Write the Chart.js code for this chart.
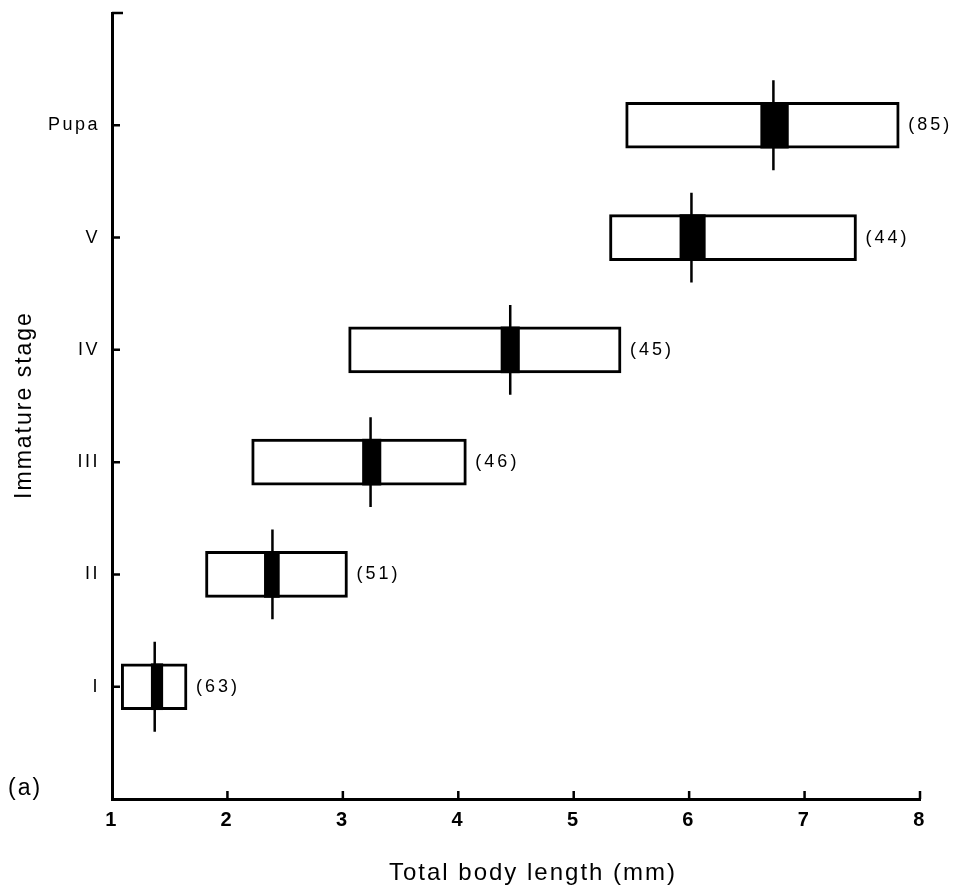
<!DOCTYPE html>
<html>
<head>
<meta charset="utf-8">
<script src="https://cdn.jsdelivr.net/npm/chart.js@4.4.0/dist/chart.umd.min.js"></script>
<style>
  html, body { margin: 0; padding: 0; background: #fff; }
  canvas { display: block; }
</style>
</head>
<body>
<canvas id="myChart" width="955" height="892"></canvas>
<script>
// stage data (mm)
const stages = ['I', 'II', 'III', 'IV', 'V', 'Pupa'];
const minLength = [1.08, 1.81, 2.21, 3.05, 5.31, 5.45];
const maxLength = [1.65, 3.04, 4.07, 5.41, 7.45, 7.82];
const lowLength = [1.34, 2.32, 3.17, 4.37, 5.92, 6.62];
const highLength = [1.44, 2.45, 3.33, 4.53, 6.14, 6.86];
const meanLength = [1.37, 2.39, 3.24, 4.45, 6.02, 6.73];
const sampleSize = [63, 51, 46, 45, 44, 85];
const xTicks = [1, 2, 3, 4, 5, 6, 7, 8];

const font = '"Liberation Sans", Arial, Helvetica, sans-serif';

const rangeBars = stages.map((s, i) => ({ y: i + 1, x: [minLength[i], maxLength[i]] }));
const meanBars = stages.map((s, i) => ({ y: i + 1, x: [lowLength[i], highLength[i]] }));
const meanLines = [];
stages.forEach((s, i) => {
    meanLines.push({ x: meanLength[i], y: i + 0.6 });
    meanLines.push({ x: meanLength[i], y: i + 1.4 });
    meanLines.push({ x: null, y: null });
});

const extras = {
    id: 'extras',
    beforeDraw(chart) {
        chart.ctx.letterSpacing = '2.5px';
    },
    afterDraw(chart) {
        const { ctx, chartArea, scales: { x, y } } = chart;
        ctx.save();
        ctx.strokeStyle = '#000';
        ctx.lineWidth = 2.5;
        ctx.beginPath();
        // ticks point inward
        xTicks.slice(1).forEach(v => {
            const px = x.getPixelForValue(v);
            ctx.moveTo(px, chartArea.bottom);
            ctx.lineTo(px, chartArea.bottom - 8);
        });
        stages.forEach((s, i) => {
            const py = y.getPixelForValue(i + 1);
            ctx.moveTo(chartArea.left, py);
            ctx.lineTo(chartArea.left + 8, py);
        });
        ctx.moveTo(chartArea.left, chartArea.top);
        ctx.lineTo(chartArea.left + 11, chartArea.top);
        ctx.stroke();

        ctx.fillStyle = '#000';
        ctx.letterSpacing = '3px';
        ctx.font = '18px ' + font;
        ctx.textAlign = 'left';
        ctx.textBaseline = 'middle';
        sampleSize.forEach((n, i) => {
            ctx.fillText('(' + n + ')', x.getPixelForValue(maxLength[i]) + 9, y.getPixelForValue(i + 1));
        });

        ctx.letterSpacing = '2px';
        ctx.font = '23px ' + font;
        ctx.fillText('(a)', 8, 789);
        ctx.textAlign = 'center';
        ctx.font = '24px ' + font;
        ctx.fillText('Total body length (mm)', 533, 873);
        ctx.font = '23px ' + font;
        ctx.translate(25, 405);
        ctx.rotate(-Math.PI / 2);
        ctx.fillText('Immature stage', 0, 0);
        ctx.restore();
        ctx.letterSpacing = '0px';
    }
};

const config = {
    type: 'bar',
    data: {
        datasets: [
            {
                type: 'line',
                data: meanLines,
                borderColor: '#000',
                borderWidth: 2.5,
                pointRadius: 0,
                spanGaps: false,
                order: 1
            },
            {
                data: meanBars,
                backgroundColor: '#000',
                borderWidth: 0,
                barThickness: 46,
                grouped: false,
                order: 2
            },
            {
                data: rangeBars,
                backgroundColor: '#fff',
                borderColor: '#000',
                borderWidth: 3,
                borderSkipped: false,
                barThickness: 46,
                grouped: false,
                order: 3
            }
        ]
    },
    options: {
        indexAxis: 'y',
        responsive: false,
        animation: false,
        layout: { padding: { left: 0, top: 13, right: 35, bottom: 1 } },
        plugins: { legend: { display: false }, tooltip: { enabled: false } },
        scales: {
            x: {
                type: 'linear',
                min: 1,
                max: 8,
                afterFit: s => { s.height = 92; s.paddingLeft = 0; s.paddingRight = 0; },
                afterBuildTicks: s => { s.ticks = xTicks.map(v => ({ value: v })); },
                grid: { display: false, drawTicks: false },
                border: { display: true, width: 3, color: '#000' },
                ticks: {
                    color: '#000',
                    padding: 9,
                    font: { family: font, size: 20, weight: 'bold' }
                }
            },
            y: {
                type: 'linear',
                min: 0,
                max: 7,
                offset: false,
                afterFit: s => { s.width = 112; s.paddingTop = 0; s.paddingBottom = 0; },
                afterBuildTicks: s => { s.ticks = stages.map((st, i) => ({ value: i + 1 })); },
                grid: { display: false, drawTicks: false, offset: false },
                border: { display: true, width: 3, color: '#000' },
                ticks: {
                    color: '#000',
                    padding: 12,
                    font: { family: font, size: 18 },
                    callback: v => stages[v - 1] || ''
                }
            }
        }
    },
    plugins: [extras]
};

const myChart = new Chart(document.getElementById('myChart'), config);
</script>
</body>
</html>
